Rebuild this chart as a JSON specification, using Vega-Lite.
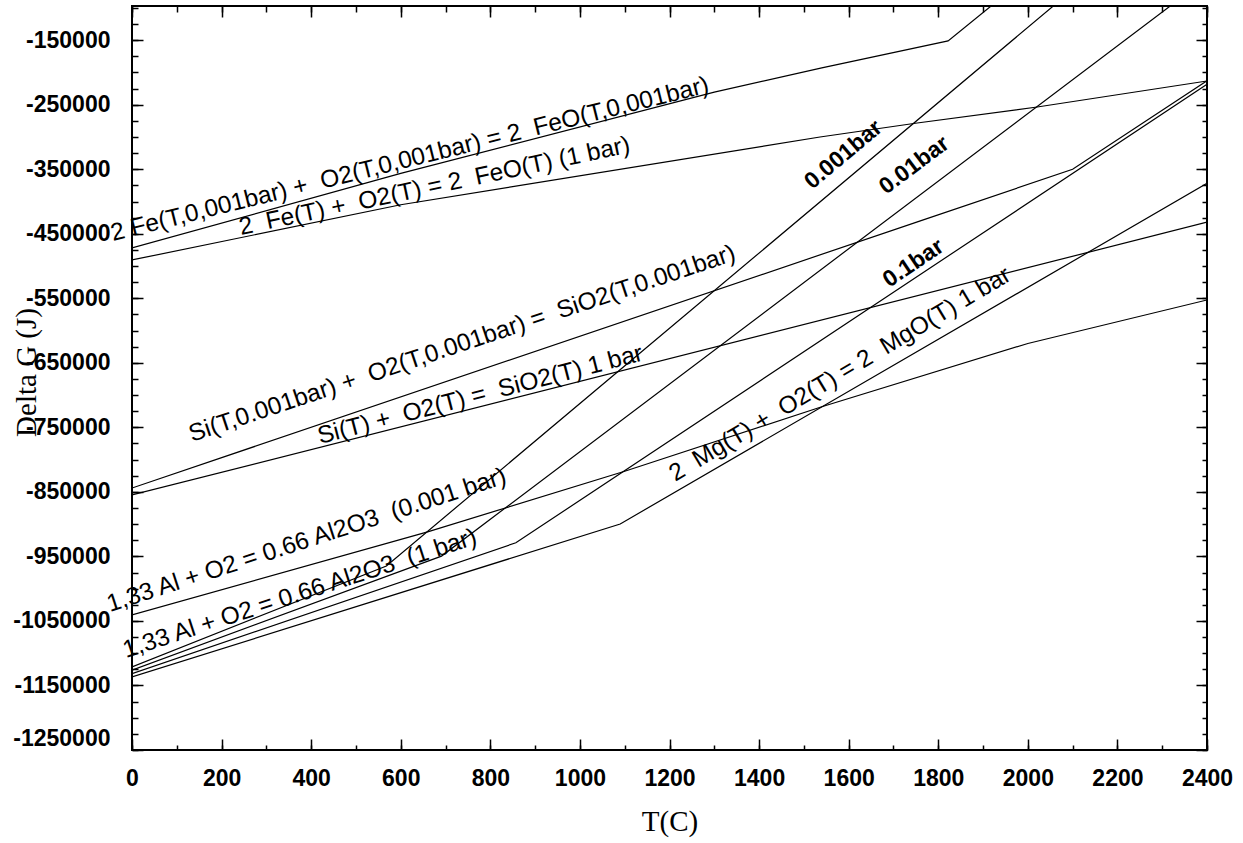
{
  "$schema": "https://vega.github.io/schema/vega-lite/v6.json",
  "width": 1075,
  "height": 744,
  "autosize": {"type": "none"},
  "padding": {"left": 132, "top": 6, "right": 36, "bottom": 93},
  "background": "white",
  "config": {"view": {"stroke": "black", "strokeWidth": 2}, "axis": {"grid": false}},
  "resolve": {"axis": {"x": "independent", "y": "independent"}},
  "layer": [
    {
      "data": {"values": [
        {"series": "Fe 0.001 bar", "T": 0, "G": -472000},
        {"series": "Fe 0.001 bar", "T": 600, "G": -356500},
        {"series": "Fe 0.001 bar", "T": 1300, "G": -230500},
        {"series": "Fe 0.001 bar", "T": 1540, "G": -193000},
        {"series": "Fe 0.001 bar", "T": 1822, "G": -151000},
        {"series": "Fe 0.001 bar", "T": 1950, "G": -79000},
        {"series": "Fe 1 bar", "T": 0, "G": -490600},
        {"series": "Fe 1 bar", "T": 600, "G": -405000},
        {"series": "Fe 1 bar", "T": 1536, "G": -300000},
        {"series": "Fe 1 bar", "T": 1753, "G": -278300},
        {"series": "Fe 1 bar", "T": 2021, "G": -253500},
        {"series": "Fe 1 bar", "T": 2400, "G": -213200},
        {"series": "Si 0.001 bar", "T": 0, "G": -844000},
        {"series": "Si 0.001 bar", "T": 1760, "G": -430000},
        {"series": "Si 0.001 bar", "T": 2100, "G": -350000},
        {"series": "Si 0.001 bar", "T": 2400, "G": -213000},
        {"series": "Si 1 bar", "T": 0, "G": -854800},
        {"series": "Si 1 bar", "T": 2400, "G": -432000},
        {"series": "Al", "T": 0, "G": -1040500},
        {"series": "Al", "T": 660, "G": -912000},
        {"series": "Al", "T": 1100, "G": -818000},
        {"series": "Al", "T": 1540, "G": -718000},
        {"series": "Al", "T": 2000, "G": -620000},
        {"series": "Al", "T": 2400, "G": -552600},
        {"series": "Mg 1 bar", "T": 0, "G": -1136800},
        {"series": "Mg 1 bar", "T": 1090, "G": -899700},
        {"series": "Mg 1 bar", "T": 2400, "G": -371800},
        {"series": "Mg 0.1 bar", "T": 0, "G": -1131600},
        {"series": "Mg 0.1 bar", "T": 857, "G": -928900},
        {"series": "Mg 0.1 bar", "T": 2400, "G": -218300},
        {"series": "Mg 0.01 bar", "T": 0, "G": -1126300},
        {"series": "Mg 0.01 bar", "T": 691, "G": -949500},
        {"series": "Mg 0.01 bar", "T": 2400, "G": -54000},
        {"series": "Mg 0.001 bar", "T": 0, "G": -1121100},
        {"series": "Mg 0.001 bar", "T": 568, "G": -964800},
        {"series": "Mg 0.001 bar", "T": 2400, "G": 103000}
      ]},
      "mark": {"type": "line", "color": "black", "strokeWidth": 1.2, "clip": true},
      "encoding": {
        "x": {"field": "T", "type": "quantitative",
          "scale": {"domain": [0, 2400], "nice": false, "zero": false},
          "axis": {"orient": "bottom", "values": [0, 200, 400, 600, 800, 1000, 1200, 1400, 1600, 1800, 2000, 2200, 2400],
            "labelExpr": "'' + datum.value", "ticks": false, "domain": false, "grid": false,
            "labelFont": "Liberation Sans", "labelFontSize": 23, "labelFontWeight": "bold", "labelColor": "black",
            "labelPadding": 17, "labelFlush": false, "labelOverlap": false,
            "title": "T(C)", "titleFont": "Liberation Serif", "titleFontSize": 29, "titleFontWeight": "normal",
            "titleColor": "black", "titleY": 80, "titleBaseline": "alphabetic"}},
        "y": {"field": "G", "type": "quantitative",
          "scale": {"domain": [-1250000, -97000], "nice": false, "zero": false},
          "axis": {"orient": "left", "values": [-1250000, -1150000, -1050000, -950000, -850000, -750000, -650000, -550000, -450000, -350000, -250000, -150000],
            "labelExpr": "'' + datum.value", "ticks": false, "domain": false, "grid": false,
            "labelFont": "Liberation Sans", "labelFontSize": 23, "labelFontWeight": "bold", "labelColor": "black",
            "labelPadding": 22, "labelFlush": true, "labelOverlap": false,
            "title": "Delta G (J)", "titleFont": "Liberation Serif", "titleFontSize": 29, "titleFontWeight": "normal",
            "titleColor": "black", "titleX": -97, "titleY": 366, "titleAngle": -90, "titleBaseline": "alphabetic", "titleAlign": "center"}},
        "detail": {"field": "series", "type": "nominal"}
      }
    },
    {
      "data": {"values": [{"T": -42.4, "G": -461200, "label": "2 Fe(T,0,001bar) +\u00a0 O2(T,0,001bar) = 2\u00a0 FeO(T,0,001bar)"}]},
      "mark": {"type": "text", "align": "left", "baseline": "alphabetic", "angle": -14, "font": "Liberation Sans", "fontSize": 24.5, "color": "black"},
      "encoding": {
        "x": {"field": "T", "type": "quantitative", "scale": {"domain": [0, 2400], "nice": false, "zero": false},
          "axis": {"orient": "bottom", "values": [0, 200, 400, 600, 800, 1000, 1200, 1400, 1600, 1800, 2000, 2200, 2400],
            "labels": false, "domain": false, "grid": false, "title": null, "ticks": true, "tickColor": "black", "tickWidth": 1.5,
            "tickSize": 11, "offset": -11}},
        "y": {"field": "G", "type": "quantitative", "scale": {"domain": [-1250000, -97000], "nice": false, "zero": false},
          "axis": {"orient": "left", "values": [-1250000, -1150000, -1050000, -950000, -850000, -750000, -650000, -550000, -450000, -350000, -250000, -150000],
            "labels": false, "domain": false, "grid": false, "title": null, "ticks": true, "tickColor": "black", "tickWidth": 1.5,
            "tickSize": 11, "offset": -11}},
        "text": {"field": "label", "type": "nominal"}
      }
    },
    {
      "data": {"values": [{"T": 243.4, "G": -451900, "label": "2\u00a0 Fe(T) +\u00a0 O2(T) = 2\u00a0 FeO(T) (1 bar)"}]},
      "mark": {"type": "text", "align": "left", "baseline": "alphabetic", "angle": -12, "font": "Liberation Sans", "fontSize": 24.5, "color": "black"},
      "encoding": {
        "x": {"field": "T", "type": "quantitative", "scale": {"domain": [0, 2400], "nice": false, "zero": false},
          "axis": {"orient": "bottom", "values": [0, 100, 200, 300, 400, 500, 600, 700, 800, 900, 1000, 1100, 1200, 1300, 1400, 1500, 1600, 1700, 1800, 1900, 2000, 2100, 2200, 2300, 2400],
            "labels": false, "domain": false, "grid": false, "title": null, "ticks": true, "tickColor": "black", "tickWidth": 1.5,
            "tickSize": 5, "offset": -5}},
        "y": {"field": "G", "type": "quantitative", "scale": {"domain": [-1250000, -97000], "nice": false, "zero": false},
          "axis": {"orient": "left", "values": [-1250000, -1225000, -1200000, -1175000, -1150000, -1125000, -1100000, -1075000, -1050000, -1025000, -1000000, -975000, -950000, -925000, -900000, -875000, -850000, -825000, -800000, -775000, -750000, -725000, -700000, -675000, -650000, -625000, -600000, -575000, -550000, -525000, -500000, -475000, -450000, -425000, -400000, -375000, -350000, -325000, -300000, -275000, -250000, -225000, -200000, -175000, -150000, -125000, -100000],
            "labels": false, "domain": false, "grid": false, "title": null, "ticks": true, "tickColor": "black", "tickWidth": 1.5,
            "tickSize": 6, "offset": -6}},
        "text": {"field": "label", "type": "nominal"}
      }
    },
    {
      "data": {"values": [{"T": 134, "G": -772700, "label": "Si(T,0.001bar) +\u00a0 O2(T,0.001bar) =\u00a0 SiO2(T,0.001bar)"}]},
      "mark": {"type": "text", "align": "left", "baseline": "alphabetic", "angle": -18.5, "font": "Liberation Sans", "fontSize": 24.5, "color": "black"},
      "encoding": {
        "x": {"field": "T", "type": "quantitative", "scale": {"domain": [0, 2400], "nice": false, "zero": false},
          "axis": {"orient": "top", "values": [0, 200, 400, 600, 800, 1000, 1200, 1400, 1600, 1800, 2000, 2200, 2400],
            "labels": false, "domain": false, "grid": false, "title": null, "ticks": true, "tickColor": "black", "tickWidth": 1.5,
            "tickSize": 11, "offset": -11}},
        "y": {"field": "G", "type": "quantitative", "scale": {"domain": [-1250000, -97000], "nice": false, "zero": false},
          "axis": {"orient": "right", "values": [-1250000, -1150000, -1050000, -950000, -850000, -750000, -650000, -550000, -450000, -350000, -250000, -150000],
            "labels": false, "domain": false, "grid": false, "title": null, "ticks": true, "tickColor": "black", "tickWidth": 1.5,
            "tickSize": 11, "offset": -11}},
        "text": {"field": "label", "type": "nominal"}
      }
    },
    {
      "data": {"values": [{"T": 419.8, "G": -775800, "label": "Si(T) +\u00a0 O2(T) =\u00a0 SiO2(T) 1 bar"}]},
      "mark": {"type": "text", "align": "left", "baseline": "alphabetic", "angle": -14.5, "font": "Liberation Sans", "fontSize": 24.5, "color": "black"},
      "encoding": {
        "x": {"field": "T", "type": "quantitative", "scale": {"domain": [0, 2400], "nice": false, "zero": false},
          "axis": {"orient": "top", "values": [0, 100, 200, 300, 400, 500, 600, 700, 800, 900, 1000, 1100, 1200, 1300, 1400, 1500, 1600, 1700, 1800, 1900, 2000, 2100, 2200, 2300, 2400],
            "labels": false, "domain": false, "grid": false, "title": null, "ticks": true, "tickColor": "black", "tickWidth": 1.5,
            "tickSize": 6, "offset": -6}},
        "y": {"field": "G", "type": "quantitative", "scale": {"domain": [-1250000, -97000], "nice": false, "zero": false},
          "axis": {"orient": "right", "values": [-1250000, -1225000, -1200000, -1175000, -1150000, -1125000, -1100000, -1075000, -1050000, -1025000, -1000000, -975000, -950000, -925000, -900000, -875000, -850000, -825000, -800000, -775000, -750000, -725000, -700000, -675000, -650000, -625000, -600000, -575000, -550000, -525000, -500000, -475000, -450000, -425000, -400000, -375000, -350000, -325000, -300000, -275000, -250000, -225000, -200000, -175000, -150000, -125000, -100000],
            "labels": false, "domain": false, "grid": false, "title": null, "ticks": true, "tickColor": "black", "tickWidth": 1.5,
            "tickSize": 5, "offset": -5}},
        "text": {"field": "label", "type": "nominal"}
      }
    },
    {
      "data": {"values": [{"T": -49.1, "G": -1036100, "label": "1,33 Al + O2 = 0.66 Al2O3\u00a0 (0.001 bar)"}]},
      "mark": {"type": "text", "align": "left", "baseline": "alphabetic", "angle": -18, "font": "Liberation Sans", "fontSize": 24.5, "color": "black"},
      "encoding": {
        "x": {"field": "T", "type": "quantitative", "scale": {"domain": [0, 2400], "nice": false, "zero": false}, "axis": null},
        "y": {"field": "G", "type": "quantitative", "scale": {"domain": [-1250000, -97000], "nice": false, "zero": false}, "axis": null},
        "text": {"field": "label", "type": "nominal"}
      }
    },
    {
      "data": {"values": [{"T": -13.4, "G": -1107400, "label": "1,33 Al + O2 = 0.66 Al2O3\u00a0 (1 bar)"}]},
      "mark": {"type": "text", "align": "left", "baseline": "alphabetic", "angle": -18, "font": "Liberation Sans", "fontSize": 24.5, "color": "black"},
      "encoding": {
        "x": {"field": "T", "type": "quantitative", "scale": {"domain": [0, 2400], "nice": false, "zero": false}, "axis": null},
        "y": {"field": "G", "type": "quantitative", "scale": {"domain": [-1250000, -97000], "nice": false, "zero": false}, "axis": null},
        "text": {"field": "label", "type": "nominal"}
      }
    },
    {
      "data": {"values": [{"T": 1212.6, "G": -834600, "label": "2\u00a0 Mg(T) +\u00a0 O2(T) = 2\u00a0 MgO(T) 1 bar"}]},
      "mark": {"type": "text", "align": "left", "baseline": "alphabetic", "angle": -31, "font": "Liberation Sans", "fontSize": 24.5, "color": "black"},
      "encoding": {
        "x": {"field": "T", "type": "quantitative", "scale": {"domain": [0, 2400], "nice": false, "zero": false}, "axis": null},
        "y": {"field": "G", "type": "quantitative", "scale": {"domain": [-1250000, -97000], "nice": false, "zero": false}, "axis": null},
        "text": {"field": "label", "type": "nominal"}
      }
    },
    {
      "data": {"values": [{"T": 1518.5, "G": -382100, "label": "0.001bar"}]},
      "mark": {"type": "text", "align": "left", "baseline": "alphabetic", "angle": -40, "font": "Liberation Sans", "fontSize": 23, "fontWeight": "bold", "color": "black"},
      "encoding": {
        "x": {"field": "T", "type": "quantitative", "scale": {"domain": [0, 2400], "nice": false, "zero": false}, "axis": null},
        "y": {"field": "G", "type": "quantitative", "scale": {"domain": [-1250000, -97000], "nice": false, "zero": false}, "axis": null},
        "text": {"field": "label", "type": "nominal"}
      }
    },
    {
      "data": {"values": [{"T": 1683.8, "G": -389900, "label": "0.01bar"}]},
      "mark": {"type": "text", "align": "left", "baseline": "alphabetic", "angle": -37, "font": "Liberation Sans", "fontSize": 23, "fontWeight": "bold", "color": "black"},
      "encoding": {
        "x": {"field": "T", "type": "quantitative", "scale": {"domain": [0, 2400], "nice": false, "zero": false}, "axis": null},
        "y": {"field": "G", "type": "quantitative", "scale": {"domain": [-1250000, -97000], "nice": false, "zero": false}, "axis": null},
        "text": {"field": "label", "type": "nominal"}
      }
    },
    {
      "data": {"values": [{"T": 1690.5, "G": -534000, "label": "0.1bar"}]},
      "mark": {"type": "text", "align": "left", "baseline": "alphabetic", "angle": -34, "font": "Liberation Sans", "fontSize": 23, "fontWeight": "bold", "color": "black"},
      "encoding": {
        "x": {"field": "T", "type": "quantitative", "scale": {"domain": [0, 2400], "nice": false, "zero": false}, "axis": null},
        "y": {"field": "G", "type": "quantitative", "scale": {"domain": [-1250000, -97000], "nice": false, "zero": false}, "axis": null},
        "text": {"field": "label", "type": "nominal"}
      }
    }
  ]
}
